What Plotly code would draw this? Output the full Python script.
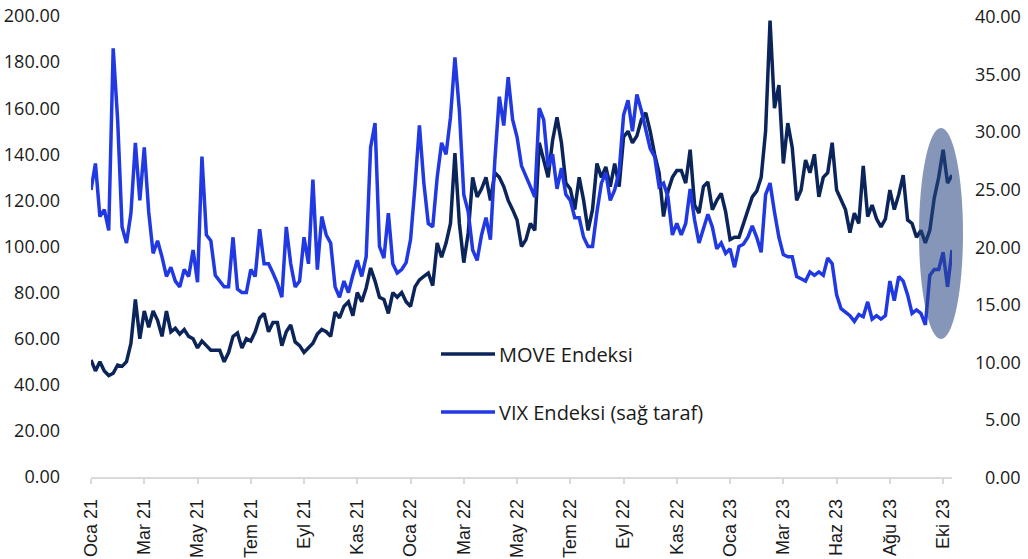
import plotly.graph_objects as go

# ---------------- data ----------------
tick_labels = ["Oca 21", "Mar 21", "May 21", "Tem 21", "Eyl 21", "Kas 21",
               "Oca 22", "Mar 22", "May 22", "Tem 22", "Eyl 22", "Kas 22",
               "Oca 23", "Mar 23", "Haz 23", "Ağu 23", "Eki 23"]
points_per_tick = 12

move = [
    50.8, 46, 50, 46, 44, 45, 48.6, 48, 50, 58,
    77, 60, 72, 65, 72, 68, 61, 72, 63, 64.5,
    62, 64, 61, 60, 56, 59, 57, 55, 55, 55,
    50, 54, 61, 62.5, 56, 60, 59, 63, 69, 71,
    63, 67, 67, 57, 63, 66, 58.6, 57, 54, 56,
    58, 62, 64, 63, 61, 71.6, 69, 74, 76, 70,
    80, 76, 82, 90.7, 85, 78, 77, 71, 80, 78,
    80, 76, 74, 82.5, 85.5, 87, 88.5, 83, 101.5, 95.4,
    101.5, 110, 140.5, 110, 93, 106, 130, 121.5, 125, 130,
    120, 132, 130, 126, 120, 116, 111.5, 100, 103, 110,
    107, 145, 137.5, 130, 146, 156, 145, 127.5, 125, 116,
    130, 120, 107, 116, 136, 130, 134.5, 126, 136, 126,
    147.5, 150, 145, 148, 155, 158, 150, 140, 132, 113,
    124, 130, 133, 133, 127.5, 142, 118, 114.5, 126, 128,
    116, 120, 123, 115, 103, 104, 104, 110, 115, 121.5,
    124, 130, 150, 198, 160, 170, 136, 153.5, 143, 120,
    124.5, 137.5, 132, 140, 121.5, 130, 132, 145, 124.5, 120,
    116, 106, 114.5, 110, 135, 113, 118, 112, 108.5, 112,
    124.5, 116, 122.5, 131, 111.5, 110, 104, 107, 101.5, 107,
    121, 130, 142, 127.5, 131,
]

vix = [
    24.9, 27.2, 22.6, 23.2, 21.4, 37.2, 31, 21.7, 20.3, 22.9,
    29, 24, 28.6, 23, 19.4, 20.5, 19.1, 17.4, 18.2, 17,
    16.5, 18, 17.4, 19.7, 16.9, 27.8, 21, 20.5, 17.5, 17,
    16.5, 16.5, 20.8, 16.3, 16, 16, 18, 17.4, 21.5, 18.5,
    18.5, 17.7, 16.8, 15.6, 21.7, 18.5, 16.5, 17, 20.8, 18.5,
    25.8, 18, 22.6, 21, 20.3, 16.5, 15.6, 17, 16, 17.5,
    18.8, 17.4, 19.1, 28.6, 30.7, 20, 19, 22.9, 18.5, 17.7,
    18, 18.6, 20.6, 25.2, 30.5, 25.5, 22, 21.7, 26, 29,
    28, 31.2, 36.4, 31.8, 24.5, 23, 19.7, 18.8, 21, 22.5,
    20.6, 27.5, 33, 30.5, 34.7, 31, 29.5, 27, 26, 25.2,
    24.3, 32, 31, 26.9, 28, 25, 26.8, 24.5, 24, 22.5,
    22.5, 20.8, 20, 20, 23, 25.5, 26.4, 24, 24.9, 26.5,
    31.4, 32.7, 30, 33.2, 31.8, 30, 28.5, 27.8, 25.2, 25.5,
    24.3, 21, 22, 21, 22, 25, 22.3, 20.3, 21.5, 22.8,
    21.7, 19.8, 20.3, 19.4, 19.8, 18.2, 20, 20.2, 20.8, 21.8,
    20.8, 19.5, 24.5, 25.5, 23, 20.8, 19.3, 19.1, 19.1, 17.4,
    17.2, 17, 17.8, 17.5, 17.8, 17.5, 19, 18.5, 15.8, 14.6,
    14.3, 14, 13.5, 14.1, 13.9, 15.2, 13.7, 14, 13.7, 14,
    17, 15.3, 17.4, 17, 15.8, 14.2, 14.5, 14.2, 13.2, 17.5,
    18, 18, 19.5, 16.5, 19.7,
]

left_ticks = [0, 20, 40, 60, 80, 100, 120, 140, 160, 180, 200]
right_ticks = [0, 5, 10, 15, 20, 25, 30, 35, 40]

series_names = ["MOVE Endeksi", "VIX Endeksi (sağ taraf)"]

# ---------------- styling ----------------
MOVE_COLOR = "#0b2459"
VIX_COLOR = "#2139e3"
AXIS_GREY = "#d9d9d9"
TXT = "#1a1a1a"
NUM_FONT = "Open Sans"

x_move = list(range(len(move)))
x_vix = list(range(len(vix)))
tick_positions = [i * points_per_tick for i in range(len(tick_labels))]

W, H = 1028, 559
L, R, T, B = 91, 76, 16, 82
plot_w = W - L - R
plot_h = H - T - B

fig = go.Figure()
fig.add_trace(go.Scatter(x=x_move, y=move, mode="lines", name=series_names[0],
                         line=dict(color=MOVE_COLOR, width=3.5), yaxis="y",
                         showlegend=False))
fig.add_trace(go.Scatter(x=x_vix, y=vix, mode="lines", name=series_names[1],
                         line=dict(color=VIX_COLOR, width=3.5), yaxis="y2",
                         showlegend=False))

# highlight ellipse over the last weeks
fig.add_shape(type="circle", xref="paper", yref="paper",
              x0=(919 - L) / plot_w, x1=(963 - L) / plot_w,
              y0=(H - B - 339) / plot_h, y1=(H - B - 128) / plot_h,
              fillcolor="rgba(40,70,130,0.57)", line=dict(width=0), layer="above")

# manual legend (line sample + text)
legend_items = [(series_names[0], MOVE_COLOR, 354), (series_names[1], VIX_COLOR, 412)]
for name, col, ypx in legend_items:
    yp = (H - B - ypx) / plot_h
    fig.add_shape(type="line", xref="paper", yref="paper",
                  x0=(441 - L) / plot_w, x1=(495 - L) / plot_w, y0=yp, y1=yp,
                  line=dict(color=col, width=3.5))
    fig.add_annotation(xref="paper", yref="paper", x=(497 - L) / plot_w, y=yp,
                       text=name, showarrow=False, xanchor="left", yanchor="middle",
                       font=dict(family=NUM_FONT, size=20, color=TXT))

# right axis tick labels (right aligned like the original)
for v in right_ticks:
    fig.add_annotation(xref="paper", yref="y2", x=(1023 - L) / plot_w, y=v,
                       text=f"{v:.2f}", showarrow=False, xanchor="right",
                       yanchor="middle",
                       font=dict(family=NUM_FONT, size=18, color=TXT))

fig.update_layout(
    width=W, height=H,
    margin=dict(l=L, r=R, t=T, b=B, pad=0, autoexpand=False),
    paper_bgcolor="white", plot_bgcolor="white",
    showlegend=False,
    xaxis=dict(
        range=[0, len(move) - 1], automargin=False,
        tickmode="array", tickvals=tick_positions, ticktext=tick_labels,
        tickangle=-90, ticks="outside", ticklen=5, tickcolor=AXIS_GREY, tickwidth=1.5,
        showline=True, linecolor=AXIS_GREY, linewidth=1.5,
        showgrid=False, zeroline=False,
        tickfont=dict(family="Liberation Sans, Arial", size=18, color=TXT),
        ticklabelstandoff=8,
    ),
    yaxis=dict(
        range=[0, 200], tickmode="array", tickvals=left_ticks, automargin=False,
        tickformat=".2f", showgrid=False, zeroline=False, showline=False,
        ticks="", ticklabelstandoff=30,
        tickfont=dict(family=NUM_FONT, size=18, color=TXT),
    ),
    yaxis2=dict(
        range=[0, 40], overlaying="y", side="right", tickmode="array",
        tickvals=right_ticks, showticklabels=False, automargin=False,
        showgrid=False, zeroline=False, showline=False, ticks="",
    ),
)

fig.write_html("out.html", config={"displayModeBar": False},
               post_script="document.body.style.margin='0px';")
